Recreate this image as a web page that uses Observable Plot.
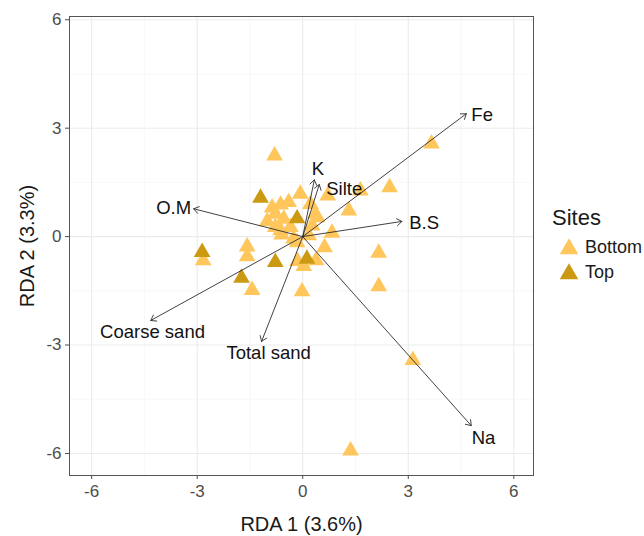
<!DOCTYPE html>
<html>
<head>
<meta charset="utf-8">
<script src="https://cdn.jsdelivr.net/npm/d3@7"></script>
<script src="https://cdn.jsdelivr.net/npm/@observablehq/plot@0.6"></script>
<style>
  body { margin: 0; background: #fff; font-family: "Liberation Sans", Arial, sans-serif; }
  #wrap { position: relative; width: 644px; height: 536px; }
  #legend { position: absolute; left: 552px; top: 205px; color: #1a1a1a; }
  #legend .title { font-size: 22px; line-height: 26px; margin-bottom: 4px; }
  #legend .item { display: flex; align-items: center; font-size: 18px; height: 25px; }
  #legend svg { margin-right: 5px; margin-left: 6px; }
</style>
</head>
<body>
<div id="wrap"><div id="chart"></div><div id="legend"></div></div>
<script>
// Site scores — Bottom
const bottomX = [3.66, 2.47, 1.64, 0.71, 1.31, 0.41, 0.83, 0.62, 0.38, 0.03, -0.15, 2.16, 2.16, 3.13, 1.36,
  -0.02, -1.44, -1.58, -1.58, -2.83, -0.80, -0.07, -0.40, -0.63, -0.87, -1.01, -0.63, -0.60, -0.26, -0.16,
  0.22, -0.78, -0.54, 0.36, 0.27, -0.35, -0.78, 0.17];
const bottomY = [2.57, 1.36, 1.27, 1.13, 0.72, 0.53, 0.10, -0.30, -0.66, -0.82, -0.68, -0.45, -1.38, -3.42, -5.92,
  -1.52, -1.48, -0.28, -0.55, -0.66, 2.24, 1.18, 0.95, 0.88, 0.80, 0.42, 0.17, 0.05, -0.06, -0.16,
  0.90, 0.63, 0.49, 0.63, 0.30, 0.26, 0.26, 0.03];
// Site scores — Top
const topX = [-2.86, -1.20, -1.74, -0.78, -0.16, 0.12];
const topY = [-0.43, 1.07, -1.14, -0.71, 0.50, -0.62];

// Environmental vectors
const varNames = ["Fe", "K", "Silte", "B.S", "O.M", "Coarse sand", "Total sand", "Na"];
const varX = [4.65, 0.33, 0.47, 2.82, -3.10, -4.32, -1.17, 4.79];
const varY = [3.40, 1.57, 1.44, 0.42, 0.77, -2.32, -2.90, -5.23];
const labelX = [5.10, 0.43, 1.18, 3.45, -3.67, -4.27, -0.97, 5.14];
const labelY = [3.35, 1.86, 1.32, 0.38, 0.80, -2.65, -3.21, -5.58];

const majorTicks = [-6, -3, 0, 3, 6];
const minorTicks = [-4.5, -1.5, 1.5, 4.5];
const siteNames = ["Bottom", "Top"];
const siteColors = ["#FFC65C", "#CC9A12"];

const sites = [
  ...bottomX.map((x, i) => ({x, y: bottomY[i], site: "Bottom"})),
  ...topX.map((x, i) => ({x, y: topY[i], site: "Top"}))
];
const vars = varNames.map((name, i) => ({name, x: varX[i], y: varY[i], lx: labelX[i], ly: labelY[i]}));
const fmt = d => String(d);

const chart = Plot.plot({
  width: 540,
  height: 536,
  marginLeft: 69,
  marginRight: 7,
  marginTop: 16,
  marginBottom: 61,
  style: {fontFamily: "'Liberation Sans', Arial, sans-serif", background: "#fff"},
  x: {domain: [-6.63, 6.56]},
  y: {domain: [-6.61, 6.09]},
  color: {domain: siteNames, range: siteColors},
  marks: [
    Plot.ruleX(minorTicks, {stroke: "#F4F4F4", strokeWidth: 0.6}),
    Plot.ruleY(minorTicks, {stroke: "#F4F4F4", strokeWidth: 0.6}),
    Plot.ruleX(majorTicks, {stroke: "#EBEBEB", strokeWidth: 1.1}),
    Plot.ruleY(majorTicks, {stroke: "#EBEBEB", strokeWidth: 1.1}),
    Plot.dot(sites, {x: "x", y: "y", fill: "site", symbol: "triangle", r: 6.2, stroke: "none"}),
    Plot.arrow(vars, {x1: 0, y1: 0, x2: "x", y2: "y", stroke: "#2b2b2b", strokeWidth: 0.9, headLength: 10, headAngle: 70}),
    Plot.text(vars, {x: "lx", y: "ly", text: "name", fontSize: 18.5, fill: "#111"}),
    Plot.frame({stroke: "#555", strokeWidth: 1}),
    Plot.axisX({ticks: majorTicks, tickFormat: fmt, tickSize: 4, tickPadding: 5, fontSize: 17, color: "#4d4d4d",
      stroke: "#4d4d4d", label: "RDA 1 (3.6%)", labelAnchor: "center", labelArrow: "none", labelOffset: 55}),
    Plot.axisY({ticks: majorTicks, tickFormat: fmt, tickSize: 4, tickPadding: 4, fontSize: 17, color: "#4d4d4d",
      stroke: "#4d4d4d", label: "RDA 2 (3.3%)", labelAnchor: "center", labelArrow: "none", labelOffset: 50})
  ]
});
document.getElementById("chart").appendChild(chart);
chart.querySelectorAll("[aria-label='x-axis label'], [aria-label='y-axis label']").forEach(g => {
  g.setAttribute("font-size", 20);
  g.setAttribute("fill", "#1a1a1a");
});

// legend
const legend = document.getElementById("legend");
const t = document.createElement("div");
t.className = "title";
t.textContent = "Sites";
legend.appendChild(t);
siteNames.forEach((name, i) => {
  const row = document.createElement("div");
  row.className = "item";
  const sym = d3.create("svg").attr("width", 22).attr("height", 20);
  sym.append("path")
    .attr("transform", "translate(11,11)")
    .attr("d", d3.symbol(d3.symbolTriangle, 150)())
    .attr("fill", siteColors[i]);
  row.appendChild(sym.node());
  const s = document.createElement("span");
  s.textContent = name;
  row.appendChild(s);
  legend.appendChild(row);
});
</script>
</body>
</html>
